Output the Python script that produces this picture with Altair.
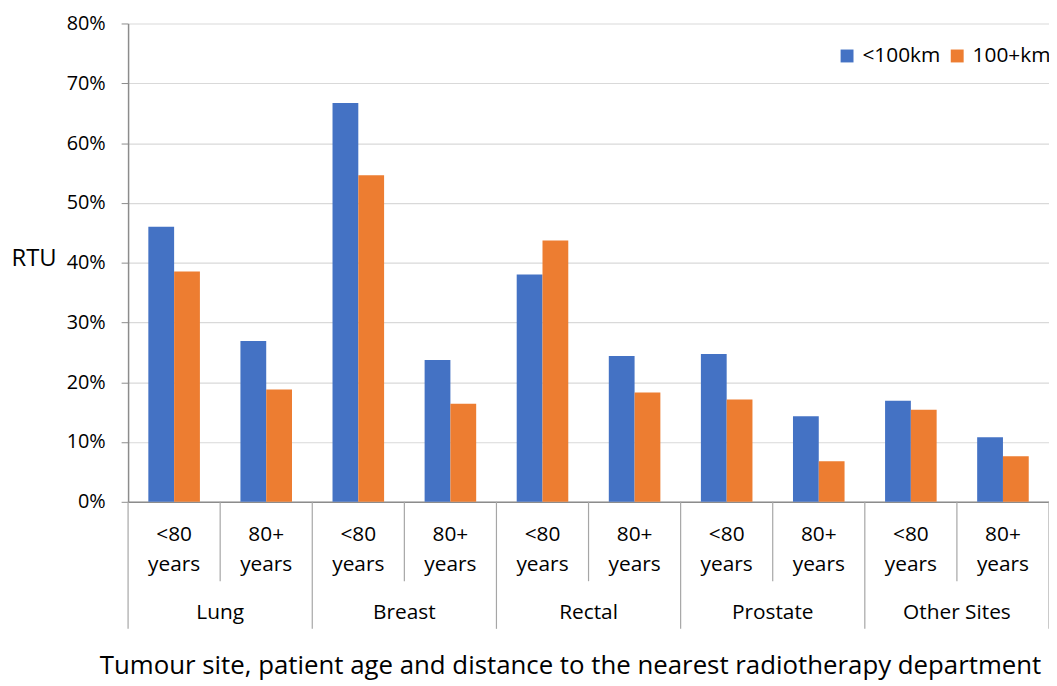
import altair as alt
import pandas as pd

sites = ["Lung", "Breast", "Rectal", "Prostate", "Other Sites"]
age_line1 = ["<80", "80+"]
age_line2 = ["years", "years"]
series = ["<100km", "100+km"]
near = [46.0, 26.9, 66.7, 23.7, 38.0, 24.4, 24.7, 14.3, 16.9, 10.8]
far = [38.5, 18.8, 54.6, 16.4, 43.7, 18.3, 17.1, 6.8, 15.4, 7.6]
colors = ["#4472C4", "#ED7D31"]

FONT = "Open Sans"
W, H = 928, 482

rows = []
for i in range(10):
    rows.append({"idx": i, "series": series[0], "value": near[i] / 100, "order": 0})
    rows.append({"idx": i, "series": series[1], "value": far[i] / 100, "order": 1})
bars_df = pd.DataFrame(rows)

sub_df = pd.DataFrame({
    "pos": [i + 0.5 for i in range(10)],
    "l1": [age_line1[i % 2] for i in range(10)],
    "l2": [age_line2[i % 2] for i in range(10)],
})
grp_df = pd.DataFrame({"pos": [2 * g + 1 for g in range(5)], "site": sites})
sep_df = pd.DataFrame({"pos": list(range(11)), "major": [i % 2 == 0 for i in range(11)]})

xscale = alt.Scale(domain=[0, 10], nice=False, zero=False)

bars = alt.Chart(bars_df).transform_calculate(
    x0="datum.idx + (datum.order == 0 ? 0.22 : 0.5)",
    x1="datum.idx + (datum.order == 0 ? 0.5 : 0.78)",
).mark_rect().encode(
    x=alt.X("x0:Q", scale=xscale, axis=alt.Axis(
        labels=False, ticks=False, grid=False, domainColor="#8c8c8c", domainWidth=1.5,
        title="Tumour site, patient age and distance to the nearest radiotherapy department",
        titleFont=FONT, titleFontSize=26, titleFontWeight="normal", titleColor="#000",
        titleX=-29, titleAlign="left", titleY=165, titleBaseline="middle")),
    x2="x1:Q",
    y=alt.Y("value:Q", scale=alt.Scale(domain=[0, 0.8], nice=False),
            axis=alt.Axis(format=".0%", values=[i / 10 for i in range(9)],
                          labelFont=FONT, labelFontSize=20, labelColor="#000", labelPadding=16,
                          tickSize=7, tickColor="#8c8c8c", domainColor="#8c8c8c", domainWidth=1.5,
                          gridColor="#d9d9d9", gridWidth=1.2,
                          title="RTU", titleAngle=0, titleFont=FONT, titleFontSize=24,
                          titleFontWeight="normal", titleColor="#000",
                          titleX=-118, titleY=237, titleAlign="left", titleBaseline="middle")),
    color=alt.Color("series:N", scale=alt.Scale(domain=series, range=colors),
                    sort=series,
                    legend=alt.Legend(orient="none", legendX=714, legendY=22, direction="horizontal",
                                      title=None, symbolType="square", symbolSize=169,
                                      symbolStrokeWidth=0, labelFont=FONT, labelFontSize=21,
                                      labelColor="#000", labelOffset=5, columnPadding=6)),
)

minor = alt.Chart(sep_df).transform_filter("!datum.major").mark_rule(
    color="#a6a6a6", strokeWidth=1.2).encode(
    x=alt.X("pos:Q", scale=xscale), y=alt.value(H), y2=alt.value(H + 80))
major = alt.Chart(sep_df).transform_filter("datum.major").mark_rule(
    color="#a6a6a6", strokeWidth=1.2).encode(
    x=alt.X("pos:Q", scale=xscale), y=alt.value(H), y2=alt.value(H + 128))

t1 = alt.Chart(sub_df).mark_text(font=FONT, fontSize=21, color="#000", baseline="middle").encode(
    x=alt.X("pos:Q", scale=xscale), y=alt.value(515), text="l1:N")
t2 = alt.Chart(sub_df).mark_text(font=FONT, fontSize=21, color="#000", baseline="middle").encode(
    x=alt.X("pos:Q", scale=xscale), y=alt.value(546), text="l2:N")
tg = alt.Chart(grp_df).mark_text(font=FONT, fontSize=21, color="#000", baseline="middle").encode(
    x=alt.X("pos:Q", scale=xscale), y=alt.value(594), text="site:N")

chart = alt.layer(bars, minor, major, t1, t2, tg).properties(
    width=W, height=H,
    autosize=alt.AutoSizeParams(type="none"),
    padding={"left": 121, "top": 13, "right": 0, "bottom": 182},
    background="white",
).configure_view(stroke=None)

chart.save("out.html", embed_options={"renderer": "svg", "actions": False})
